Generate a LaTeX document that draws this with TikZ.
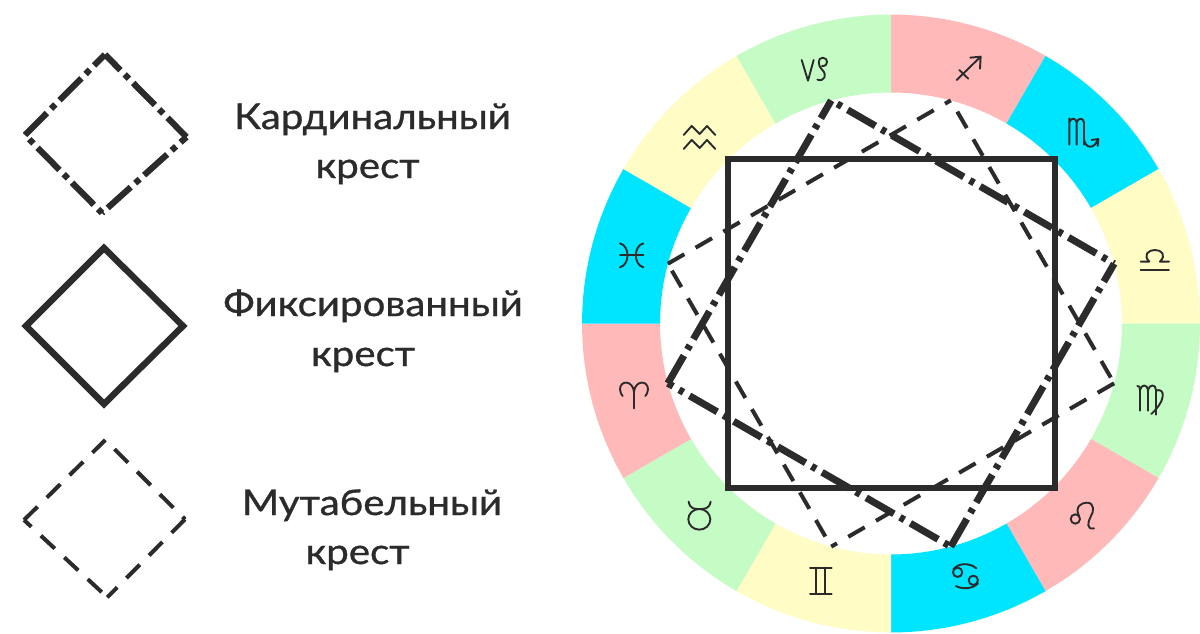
\documentclass[tikz,border=0pt]{standalone}
\usepackage{fontspec}
\setmainfont{Lato}[FakeBold=0.9,FakeStretch=1.13]
\definecolor{ink}{HTML}{2B2B2B}
\definecolor{zpink}{HTML}{FFB9B9}
\definecolor{zcyan}{HTML}{00E5FF}
\definecolor{zyellow}{HTML}{FFFDC5}
\definecolor{zgreen}{HTML}{C5FBC5}
\tikzset{
  label text/.style={font=\fontsize{35.6}{35.6}\selectfont,text=ink,anchor=base,inner sep=0pt},
  fixed line/.style={draw=ink,line width=6.4pt,line join=miter},
  cardinal line/.style={draw=ink,line width=7pt,dash pattern=on 32pt off 7pt on 5pt off 7pt},
  cardinal small/.style={draw=ink,line width=6.2pt,dash pattern=on 31pt off 6pt on 6pt off 6pt},
  mutable line/.style={draw=ink,line width=4pt,dash pattern=on 19pt off 13pt},
  glyph/.style={draw=ink,line width=1.9pt,line cap=round,line join=round},
}
\begin{document}
\begin{tikzpicture}[x=1pt,y=-1pt]
\useasboundingbox (0,0) rectangle (1200,633);
\fill[white] (0,0) rectangle (1200,633);
\foreach \a/\c in {90/zpink,60/zcyan,30/zyellow,0/zgreen,-30/zpink,-60/zcyan,-90/zyellow,-120/zgreen,-150/zpink,180/zcyan,150/zyellow,120/zgreen}{
  \fill[\c] ({891+309*cos(\a)},{323.5-309*sin(\a)})
    \foreach \t in {1,...,12}{ -- ({891+309*cos(\a-2.5*\t)},{323.5-309*sin(\a-2.5*\t)}) }
    \foreach \t in {12,...,0}{ -- ({891+231*cos(\a-2.5*\t)},{323.5-231*sin(\a-2.5*\t)}) } -- cycle;
}
% vertices of the crosses in the wheel
\coordinate (mt) at ({891+231*cos(75)},{323.5-231*sin(75)});
\coordinate (mr) at ({891+231*cos(-15)},{323.5-231*sin(-15)});
\coordinate (mb) at ({891+231*cos(-105)},{323.5-231*sin(-105)});
\coordinate (ml) at ({891+231*cos(165)},{323.5-231*sin(165)});
\coordinate (ct) at ({891+231*cos(105)},{323.5-231*sin(105)});
\coordinate (cr) at ({891+231*cos(15)},{323.5-231*sin(15)});
\coordinate (cb) at ({891+231*cos(-75)},{323.5-231*sin(-75)});
\coordinate (cl) at ({891+231*cos(195)},{323.5-231*sin(195)});
% mutable
\draw[mutable line] (ml) -- (mt);
\draw[mutable line,dash phase=19pt] (mt) -- (mr);
\draw[mutable line] (mr) -- (mb);
\draw[mutable line,dash phase=24pt] (ml) -- (mb);
% cardinal
\draw[cardinal line] (cl) -- (ct);
\draw[cardinal line,dash phase=32pt] (ct) -- (cr);
\draw[cardinal line] (cb) -- (cr);
\draw[cardinal line,dash phase=26pt] (cl) -- (cb);
% fixed
\draw[fixed line] (728,159) rectangle (1055,488);
% legend: cardinal
\coordinate (lct) at (105,54.5);
\coordinate (lcr) at (186.5,137);
\coordinate (lcb) at (102,213);
\coordinate (lcl) at (25,135);
\draw[cardinal small] (lcl) -- (lct);
\draw[cardinal small,dash phase=9pt] (lct) -- (lcr);
\draw[cardinal small,dash phase=23pt] (lcr) -- (lcb);
\draw[cardinal small,dash phase=31pt] (lcl) -- (lcb);
% legend: fixed
\draw[fixed line] (104,248) -- (183,326) -- (104,404) -- (26,326) -- cycle;
% legend: mutable
\coordinate (lmt) at (105.3,440);
\coordinate (lmr) at (185,519.3);
\coordinate (lmb) at (107.3,597.3);
\coordinate (lml) at (24,520);
\draw[mutable line] (lml) -- (lmt);
\draw[mutable line,dash phase=19pt] (lmt) -- (lmr);
\draw[mutable line] (lmr) -- (lmb);
\draw[mutable line,dash phase=9pt] (lml) -- (lmb);
% labels
\node[label text] (t1) at (372.5,129) {Кардинальный};
\node[label text] (t2) at (367.5,178) {крест};
\node[label text] (t3) at (373,316) {Фиксированный};
\node[label text] (t4) at (363,366) {крест};
\node[label text] (t5) at (372,515) {Мутабельный};
\node[label text] (t6) at (357.5,564) {крест};
% glyphs, coordinates from 3x crops
\begin{scope}[shift={(780,10)},x=0.3333pt,y=-0.3333pt,glyph]
  % capricorn
  \draw (65,150) -- (84,212) -- (101,150);
  \draw (112,209) .. controls (134,216) and (142,194) .. (127,180) .. controls (113,168) and (112,143) .. (128,143) .. controls (146,143) and (146,170) .. (126,168);
  % sagittarius
  \draw (530,210) -- (601,141) (571,143) -- (602,140) -- (600,176) (538,180) -- (565,206);
  % scorpio
  \draw (868,325) -- (868,404) (890,404) -- (890,335) (868,338) .. controls (872,322) and (888,322) .. (890,338) (912,404) -- (912,335) (890,338) .. controls (894,322) and (910,322) .. (912,338);
  \draw (912,385) .. controls (914,418) and (945,418) .. (953,388) (935,390) -- (955,387) -- (953,408);
  % libra
  \draw (1082,780) -- (1167,780);
  \draw (1082,755) -- (1108,755) .. controls (1088,735) and (1105,720) .. (1125,720) .. controls (1145,720) and (1160,735) .. (1140,755) -- (1167,755);
\end{scope}
\begin{scope}[shift={(580,320)},x=0.3333pt,y=-0.3333pt,glyph]
  % aries
  \draw (162,265) -- (162,215) .. controls (158,180) and (120,180) .. (120,208) .. controls (120,218) and (125,224) .. (128,228);
  \draw (162,215) .. controls (166,180) and (204,180) .. (204,208) .. controls (204,218) and (199,224) .. (196,228);
  % taurus
  \draw (358,598) circle[x radius=33,y radius=31];
  \draw (326,545) .. controls (330,568) and (345,567) .. (358,567) .. controls (372,567) and (388,568) .. (392,545);
  % gemini
  \draw (690,743) -- (755,743) (690,822) -- (755,822) (708,743) -- (708,822) (736,743) -- (736,822);
  % cancer
  \draw (1133,757) circle[radius=14];
  \draw (1180,781) circle[radius=14];
  \draw (1120,748) .. controls (1135,728) and (1170,728) .. (1189,745);
  \draw (1194,790) .. controls (1178,808) and (1145,808) .. (1128,798);
\end{scope}
\begin{scope}[shift={(610,110)},x=0.3333pt,y=-0.3333pt,glyph]
  % aquarius
  \draw (221,75) -- (245,48) -- (269,72) -- (291,48) -- (316,75);
  \draw (221,117) -- (245,90) -- (269,114) -- (291,90) -- (316,117);
  % pisces
  \draw (30,400) .. controls (60,408) and (60,464) .. (30,472);
  \draw (100,400) .. controls (70,408) and (70,464) .. (100,472);
  \draw (30,436) -- (100,436);
\end{scope}
\begin{scope}[shift={(1050,370)},x=0.3333pt,y=-0.3333pt,glyph]
  % virgo
  \draw (262,48) .. controls (268,46) and (270,52) .. (270,60) -- (270,122);
  \draw (270,60) .. controls (274,42) and (292,42) .. (294,60) -- (294,122);
  \draw (294,60) .. controls (298,42) and (318,42) .. (318,60) -- (318,134);
  \draw (318,62) .. controls (345,52) and (350,90) .. (304,132);
  % leo
  \draw (76,447) circle[radius=14];
  \draw (88,440) .. controls (72,410) and (95,398) .. (110,398) .. controls (135,398) and (132,425) .. (122,440) .. controls (112,458) and (110,480) .. (132,475);
\end{scope}
\end{tikzpicture}
\end{document}
